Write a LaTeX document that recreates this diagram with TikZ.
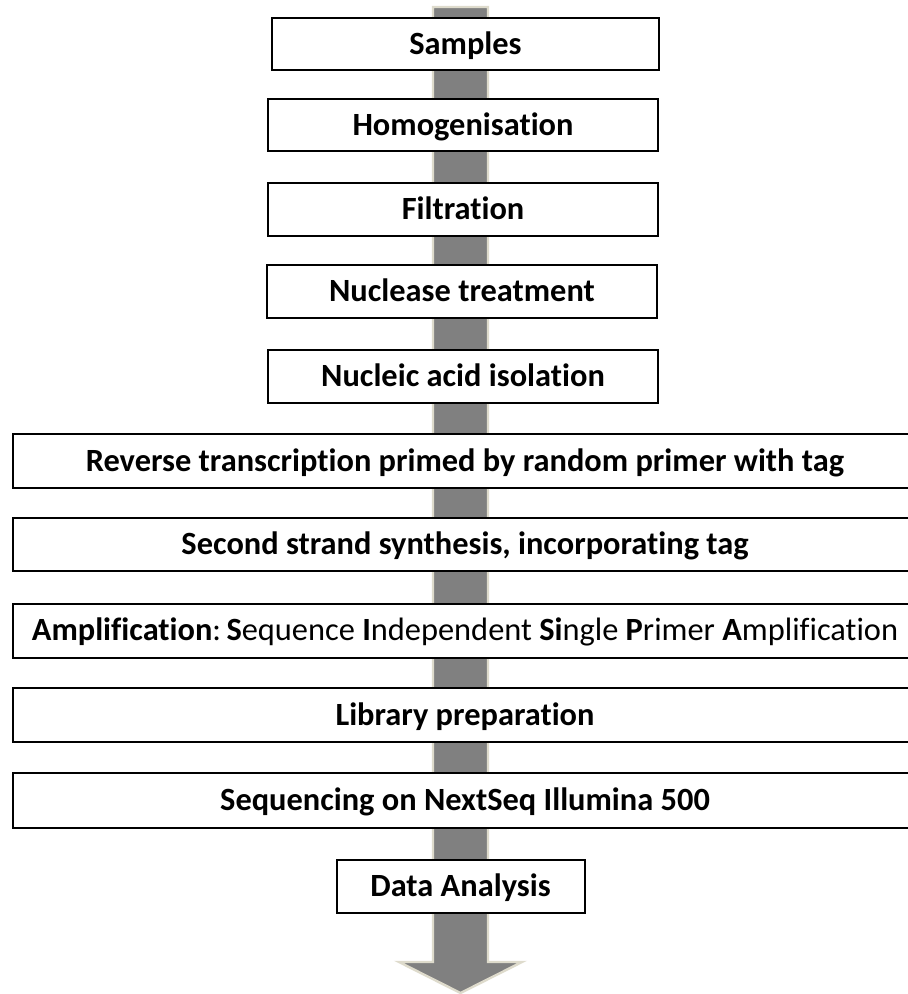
\documentclass[tikz,border=0pt]{standalone}
\usepackage{fontspec}
\setmainfont[Ligatures=NoCommon]{Carlito}
\definecolor{shaftgray}{HTML}{808080}
\definecolor{shaftrim}{HTML}{DEDBCC}

\begin{document}
\begin{tikzpicture}[x=0.5pt,y=-0.5pt,
  stepbox/.style={rectangle,draw=black,line width=1pt,fill=white,
    inner sep=0pt,text height=10.4pt,text depth=0pt,
    font=\fontsize{16.2}{19}\selectfont\bfseries}]

  \newcommand{\midx}{465.5}
  \newcommand{\wide}{904}

\useasboundingbox (0,0) rectangle (907,994);

%% the big arrow behind the steps
\draw[fill=shaftgray,draw=shaftrim,line width=1.2pt]
  (433,7) -- (488,7) -- (488,962) -- (522,962) -- (460.5,993)
  -- (399,962) -- (433,962) -- cycle;

\node (samp) at (\midx, 44) [stepbox,minimum width=387*0.5pt,minimum height=52*0.5pt] {Samples};
\node (homo) at (463, 125) [stepbox,minimum width=390*0.5pt,minimum height=52*0.5pt] {Homogenisation};
\node (filt) at (463, 209.5) [stepbox,minimum width=390*0.5pt,minimum height=53*0.5pt] {Filtration};
\node (nucl) at (462, 291.5) [stepbox,minimum width=390*0.5pt,minimum height=53*0.5pt] {Nuclease treatment};
\node (isol) at (463, 376.5) [stepbox,minimum width=390*0.5pt,minimum height=53*0.5pt] {Nucleic acid isolation};

\node (rev) at (465, 461) [stepbox,minimum width=\wide*0.5pt,minimum height=54*0.5pt] {Reverse transcription primed by random primer with tag};
\node (sec) at (465, 544.5) [stepbox,minimum width=\wide*0.5pt,minimum height=53*0.5pt] {Second strand synthesis, incorporating tag};
\node (amp) at (465, 630.5) [stepbox,minimum width=\wide*0.5pt,minimum height=54*0.5pt,font=\fontsize{16.2}{19}\selectfont]
  {\textbf{Amplification}:\,\textbf{S}equence \textbf{I}ndependent \textbf{Si}ngle \textbf{P}rimer \textbf{A}mplification};
\node (lib) at (465, 715) [stepbox,minimum width=\wide*0.5pt,minimum height=54*0.5pt] {Library preparation};
\node (seq) at (465, 800.5) [stepbox,minimum width=\wide*0.5pt,minimum height=55*0.5pt] {Sequencing on NextSeq Illumina 500};

\node (data) at (460.5, 886.5) [stepbox,minimum width=248*0.5pt,minimum height=53*0.5pt] {Data Analysis};

\end{tikzpicture}
\end{document}
